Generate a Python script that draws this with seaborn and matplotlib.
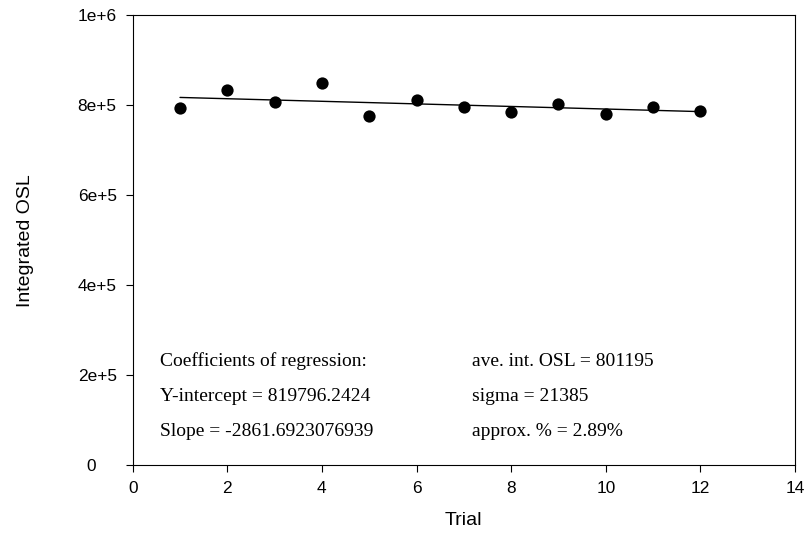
import matplotlib
matplotlib.use("Agg")
import matplotlib.pyplot as plt
import seaborn as sns
import pandas as pd
from matplotlib.transforms import ScaledTranslation

# ---- data ----
trials = [1, 2, 3, 4, 5, 6, 7, 8, 9, 10, 11, 12]
osl = [794100, 833400, 806100, 848300, 776400, 811200,
       795200, 785300, 802300, 779500, 795000, 787500]
intercept = 819796.2424
slope = -2861.6923076939
x_ticks = [0, 2, 4, 6, 8, 10, 12, 14]
y_ticks = [0, 200000, 400000, 600000, 800000, 1000000]
y_tick_labels = ["0", "2e+5", "4e+5", "6e+5", "8e+5", "1e+6"]
coef_lines = ["Coefficients of regression:",
              "Y-intercept = 819796.2424",
              "Slope = -2861.6923076939"]
stat_lines = ["ave. int. OSL = 801195",
              "sigma = 21385",
              "approx. % = 2.89%"]

sns.set_theme(style="white")
plt.rcParams['font.family'] = ['Liberation Sans', 'DejaVu Sans']

W, H = 805, 542
fig = plt.figure(figsize=(W / 100, H / 100), dpi=100)
L, R, T, B = 132.7, 795.0, 15.0, 465.3
ax = fig.add_axes([L / W, 1 - B / H, (R - L) / W, (B - T) / H])

df = pd.DataFrame({"Trial": trials, "OSL": osl})
df["fit"] = intercept + slope * df["Trial"]

sns.lineplot(data=df, x="Trial", y="fit", color="black", lw=1.0, ax=ax)
sns.scatterplot(data=df, x="Trial", y="OSL", color="black", s=78,
                linewidth=0, ax=ax, zorder=3)

ax.set_xlim(0, 14)
ax.set_ylim(0, 1000000)
ax.set_xticks(x_ticks)
ax.set_xticklabels([str(t) for t in x_ticks])
ax.set_yticks(y_ticks)
ax.set_yticklabels(y_tick_labels)
ax.tick_params(axis="both", direction="out", length=5, width=0.8,
               color="black", labelsize=12.4, pad=6.5, labelcolor="black",
               bottom=True, left=True)
for sp in ax.spines.values():
    sp.set_color("black")
    sp.set_linewidth(0.8)

# the "0" label on the y axis sits further left in the reference
lab0 = ax.get_yticklabels()[0]
lab0.set_transform(lab0.get_transform() +
                   ScaledTranslation(-21 / 100, 0, fig.dpi_scale_trans))

ax.set_xlabel("Trial", fontsize=14, color="black")
ax.set_ylabel("Integrated OSL", fontsize=14, color="black")
ax.xaxis.set_label_coords(0.5, -0.103)
ax.yaxis.set_label_coords(-0.149, 0.5)

baselines = [0.2205, 0.1428, 0.0651]
for txt, yb in zip(coef_lines, baselines):
    ax.text(0.0412, yb, txt, transform=ax.transAxes, fontsize=14,
            family=['Liberation Serif', 'DejaVu Serif'], va="baseline",
            ha="left", color="black")
for txt, yb in zip(stat_lines, baselines):
    ax.text(0.5123, yb, txt, transform=ax.transAxes, fontsize=14,
            family=['Liberation Serif', 'DejaVu Serif'], va="baseline",
            ha="left", color="black")

fig.savefig("out.png", dpi=100, facecolor="white")
